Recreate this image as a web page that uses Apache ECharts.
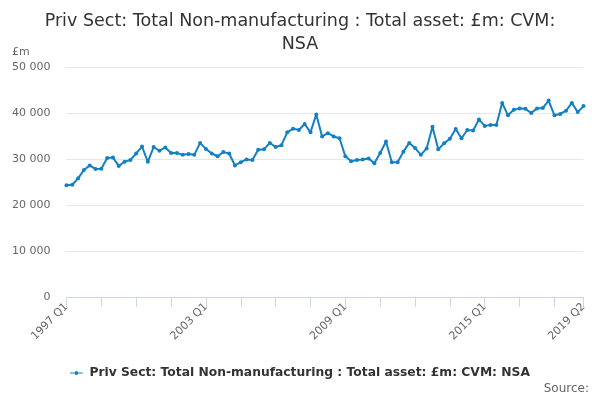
<!DOCTYPE html>
<html><head><meta charset="utf-8">
<script src="https://cdn.jsdelivr.net/npm/echarts@6/dist/echarts.min.js"></script>
<style>html,body{margin:0;padding:0;background:#fff}#c{width:600px;height:400px}</style>
</head><body><div id="c"></div>
<script>
const years = [];
for (let y = 1997; y <= 2019; y++) years.push(y);
const categories = [];
years.forEach(y => { for (let q = 1; q <= 4; q++) { if (y === 2019 && q > 2) break; categories.push(y + ' Q' + q); } });
const values = [
  24300,24400,25800,27600, 28600,27800,27900,30200, 30300,28500,29400,29800,
  31200,32700,29400,32600, 31800,32500,31300,31300, 30900,31100,30900,33500,
  32200,31200,30600,31500, 31200,28600,29300,29900, 29800,32000,32100,33500,
  32600,33000,35800,36600, 36300,37600,35800,39700, 34900,35600,34900,34500,
  30600,29500,29800,29900, 30100,29100,31300,33800, 29300,29300,31600,33500,
  32400,30900,32300,37000, 32100,33400,34400,36500, 34500,36300,36200,38600,
  37200,37400,37400,42200, 39500,40700,41000,40900, 40000,41000,41100,42700,
  39500,39800,40500,42200, 40200,41500
];
const seriesName = 'Priv Sect: Total Non-manufacturing : Total asset: £m: CVM: NSA';
const titleText = 'Priv Sect: Total Non-manufacturing : Total asset: £m: CVM:\nNSA';
const last = categories.length - 1;
const chart = echarts.init(document.getElementById('c'));
chart.setOption({
  animation: false,
  title: { text: titleText, left: 'center', top: 5,
    textStyle: { fontFamily: 'DejaVu Sans', fontSize: 17.5, fontWeight: 'normal', color: '#333', lineHeight: 23 } },
  graphic: [
    { type: 'text', left: 12, top: 47, style: { text: '£m', fontFamily: 'DejaVu Sans', fontSize: 11, fill: '#666' } },
    { type: 'text', right: 11, top: 383, style: { text: 'Source:', fontFamily: 'DejaVu Sans', fontSize: 12, fill: '#666' } }
  ],
  legend: { bottom: 16, left: 'center', itemWidth: 16, itemHeight: 4, itemGap: 5,
    data: [{ name: seriesName, icon: 'path://M0,1.5L6,1.5A2,2,0,1,1,10,1.5L16,1.5L16,2.5L10,2.5A2,2,0,1,1,6,2.5L0,2.5Z' }],
    textStyle: { fontFamily: 'DejaVu Sans', fontSize: 12.3, fontWeight: 'bold', color: '#333' } },
  grid: { left: 66.5, right: 16.5, top: 67, bottom: 103 },
  xAxis: { type: 'category', data: categories, boundaryGap: false,
    axisLine: { lineStyle: { color: '#ccd6eb' } },
    axisTick: { length: 10, lineStyle: { color: '#ccd6eb' }, interval: (i) => i % 6 === 0 || i === last },
    axisLabel: { rotate: 45, color: '#666', fontFamily: 'DejaVu Sans', fontSize: 11, margin: 8,
      interval: (i) => i % 24 === 0 || i === last },
    splitLine: { show: false } },
  yAxis: { type: 'value', min: 0, max: 50000, interval: 10000,
    axisLabel: { color: '#666', fontFamily: 'DejaVu Sans', fontSize: 11, margin: 16,
      formatter: v => v === 0 ? '0' : String(v).replace(/\B(?=(\d{3})+(?!\d))/g, ' ') },
    axisLine: { show: false }, axisTick: { show: false },
    splitLine: { lineStyle: { color: '#e6e6e6' } } },
  series: [{ name: seriesName, type: 'line', data: values, symbol: 'circle', symbolSize: 4,
    showSymbol: true, showAllSymbol: true,
    lineStyle: { color: '#1380c4', width: 2 }, itemStyle: { color: '#1380c4' } }]
});
</script></body></html>
